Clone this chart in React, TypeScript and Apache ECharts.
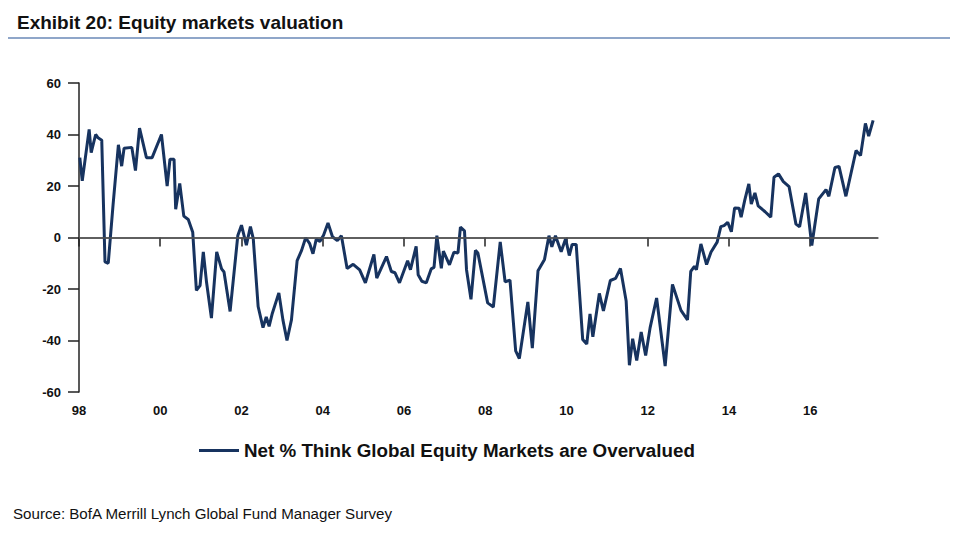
import React, { useEffect, useRef } from "react";
import * as echarts from "echarts";

const title = "Exhibit 20: Equity markets valuation";
const seriesName = "Net % Think Global Equity Markets are Overvalued";
const source = "Source: BofA Merrill Lynch Global Fund Manager Survey";

const yTicks = [-60, -40, -20, 0, 20, 40, 60];
const xTickYears = [1998, 2000, 2002, 2004, 2006, 2008, 2010, 2012, 2014, 2016];

// survey dates (decimal years) and net % values
const dates = [
  1998.02, 1998.08, 1998.25, 1998.3, 1998.41, 1998.47, 1998.56, 1998.64, 1998.72, 1998.84,
  1998.97, 1999.05, 1999.11, 1999.3, 1999.39, 1999.49, 1999.66, 1999.8, 2000.03, 2000.17,
  2000.24, 2000.34, 2000.38, 2000.48, 2000.58, 2000.69, 2000.8, 2000.89, 2000.98, 2001.06,
  2001.14, 2001.26, 2001.39, 2001.51, 2001.57, 2001.72, 2001.91, 2002.0, 2002.12, 2002.22,
  2002.29, 2002.41, 2002.53, 2002.61, 2002.68, 2002.76, 2002.92, 2003.02, 2003.12, 2003.23,
  2003.37, 2003.48, 2003.58, 2003.68, 2003.76, 2003.84, 2003.93, 2004.02, 2004.13, 2004.24,
  2004.36, 2004.46, 2004.6, 2004.75, 2004.91, 2005.05, 2005.26, 2005.33, 2005.57, 2005.69,
  2005.78, 2005.89, 2006.09, 2006.16, 2006.3, 2006.35, 2006.44, 2006.55, 2006.67, 2006.74,
  2006.81, 2006.92, 2006.97, 2007.12, 2007.23, 2007.33, 2007.39, 2007.49, 2007.54, 2007.65,
  2007.76, 2007.82, 2008.06, 2008.2, 2008.37, 2008.49, 2008.61, 2008.75, 2008.84, 2009.05,
  2009.16, 2009.3, 2009.46, 2009.57, 2009.64, 2009.73, 2009.87, 2009.98, 2010.07, 2010.14,
  2010.24, 2010.4, 2010.5, 2010.58, 2010.65, 2010.81, 2010.91, 2011.08, 2011.21, 2011.33,
  2011.47, 2011.55, 2011.63, 2011.73, 2011.84, 2011.95, 2012.06, 2012.22, 2012.43, 2012.61,
  2012.82, 2012.98, 2013.06, 2013.15, 2013.2, 2013.31, 2013.45, 2013.56, 2013.71, 2013.8,
  2013.88, 2013.97, 2014.06, 2014.14, 2014.25, 2014.3, 2014.39, 2014.49, 2014.55, 2014.64,
  2014.72, 2014.89, 2015.03, 2015.11, 2015.22, 2015.34, 2015.48, 2015.65, 2015.74, 2015.89,
  2016.04, 2016.21, 2016.39, 2016.46, 2016.61, 2016.71, 2016.88, 2017.13, 2017.24, 2017.36,
  2017.44, 2017.55,
];
const values = [
  31, 22, 42, 33, 40, 38.7, 37.8, -9.5, -10, 13,
  36, 27.7, 34.7, 35, 26, 42.5, 31, 31, 40, 20,
  30.4, 30.4, 11, 21, 8.3, 7, 2, -20.5, -18.7, -5.6,
  -17.4, -31.3, -5.6, -12.2, -13.4, -28.7, 0.8, 4.8, -3, 4.2,
  -0.4, -26.8, -35, -30.8, -34.5, -29.4, -21.5, -32, -40, -32,
  -9, -5, -0.1, -2.4, -6.3, -0.7, -1.5, 0.9, 5.6, 0.3,
  -1.2, 0.7, -12, -10.4, -12.6, -17.6, -6.6, -15.8, -7.4, -13.2,
  -13.7, -17.6, -9, -12.5, -3.4, -14.5, -17, -17.6, -12.2, -11.6,
  0.7, -12, -5.3, -10.6, -5.7, -6, 4, 2.6, -12.5, -24,
  -5, -6, -25.4, -27, -1.7, -17.2, -16.6, -44, -47, -25,
  -43, -12.9, -8.5, 0.7, -3.6, 0.7, -5.5, -0.5, -7, -2.7,
  -2.7, -39.6, -41.4, -29.7, -38.6, -21.7, -28.5, -16.7, -15.9, -12,
  -24.7, -49.6, -39.3, -47.8, -36.7, -45.8, -35, -23.5, -49.9, -18.2,
  -28.3, -32, -13.2, -11.2, -12.5, -2.5, -10.5, -5.6, -1.8, 4.2,
  4.6, 5.9, 2.2, 11.5, 11.4, 7.9, 14.5, 20.8, 13, 17.3,
  12.3, 10, 7.9, 23.4, 24.7, 21.7, 19.8, 5.2, 4.2, 17.3,
  -3.1, 15, 18.6, 16, 27.2, 27.6, 16, 33.8, 31.8, 44.3,
  39.4, 45.5,
];

const FONT = "'Liberation Sans', Arial, sans-serif";

export default function App() {
  const ref = useRef<HTMLDivElement>(null);
  useEffect(() => {
    document.body.style.margin = "0";
    if (!ref.current) return;
    const chart = echarts.init(ref.current, undefined, { renderer: "svg" });
    chart.setOption({
      animation: false,
      backgroundColor: "#ffffff",
      title: {
        text: title,
        left: 12,
        top: 8,
        textStyle: { fontFamily: FONT, fontWeight: "bold", fontSize: 19, color: "#111" },
      },
      graphic: [
        { type: "rect", shape: { x: 8, y: 37, width: 942, height: 2 }, style: { fill: "#8fa6c9" } },
        {
          type: "text",
          x: 13,
          y: 507,
          scaleX: 1.08,
          style: { text: source, font: `14px ${FONT}`, fill: "#111" },
        },
      ],
      legend: {
        data: [seriesName],
        left: 194,
        top: 436,
        itemWidth: 40,
        itemHeight: 3,
        icon: "rect",
        textStyle: { fontFamily: FONT, fontWeight: "bold", fontSize: 18.8, color: "#111", padding: [0, 0, 0, 0] },
      },
      grid: { left: 79, right: 81, top: 83, bottom: 141, containLabel: false },
      xAxis: {
        type: "value",
        min: 1998,
        max: 2017.67,
        interval: 2,
        axisLine: { show: true, lineStyle: { color: "#555", width: 1.5 } },
        axisTick: { show: true, length: 9, customValues: xTickYears, lineStyle: { color: "#222", width: 1.5 } },
        axisLabel: {
          customValues: xTickYears,
          margin: 12,
          fontFamily: FONT,
          fontWeight: "bold",
          fontSize: 13,
          color: "#111",
          formatter: (v: number) => String(Math.round(v) % 100).padStart(2, "0"),
        },
        splitLine: { show: false },
      },
      yAxis: {
        type: "value",
        min: -60,
        max: 60,
        interval: 20,
        axisLine: { show: true, lineStyle: { color: "#222", width: 1.5 } },
        axisTick: { show: true, length: 11, customValues: yTicks, lineStyle: { color: "#222", width: 1.5 } },
        axisLabel: {
          customValues: yTicks,
          margin: 18,
          fontFamily: FONT,
          fontWeight: "bold",
          fontSize: 13,
          color: "#111",
        },
        splitLine: { show: false },
      },
      series: [
        {
          type: "line",
          name: "zero",
          data: [],
          z: 1,
          silent: true,
          markLine: {
            silent: true,
            symbol: "none",
            label: { show: false },
            lineStyle: { color: "#555", width: 1.5, type: "solid" },
            data: [{ yAxis: 0 }],
          },
        },
        {
          type: "line",
          name: seriesName,
          z: 3,
          showSymbol: false,
          symbol: "none",
          color: "#17335f",
          lineStyle: { color: "#17335f", width: 3 },
          data: dates.map((d, i) => [d, values[i]]),
        },
      ],
    });
    return () => chart.dispose();
  }, []);
  return <div ref={ref} style={{ width: 959, height: 533 }} />;
}
